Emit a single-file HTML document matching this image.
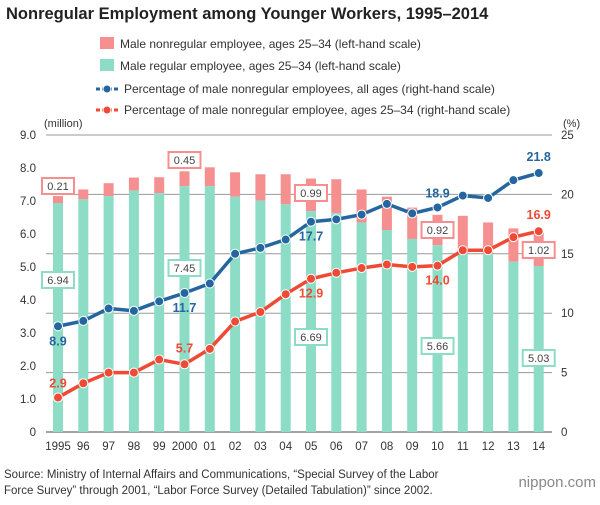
<!DOCTYPE html>
<html><head><meta charset="utf-8"><style>
body{margin:0;background:#fff;font-family:"Liberation Sans",sans-serif;}
svg text{font-family:"Liberation Sans",sans-serif;}
</style></head><body>
<svg id="chart" width="600" height="500" xmlns="http://www.w3.org/2000/svg">
<text x="6" y="19" font-size="16.5" font-weight="bold" fill="#222">Nonregular Employment among Younger Workers, 1995–2014</text>
<g>
<g><rect x="100" y="37" width="14" height="12" fill="#f68f8f"/><text x="120" y="48" font-size="12" fill="#333">Male nonregular employee, ages 25–34 (left-hand scale)</text></g>
<g><rect x="100" y="59" width="14" height="12" fill="#8cdcc6"/><text x="120" y="70" font-size="12" fill="#333">Male regular employee, ages 25–34 (left-hand scale)</text></g>
<g><line x1="96" y1="89" x2="118" y2="89" stroke="#2566a0" stroke-width="3" stroke-dasharray="4,2"/><circle cx="107" cy="89" r="4" fill="#2566a0" stroke="#fff"/><text x="124" y="93" font-size="12" fill="#333">Percentage of male nonregular employees, all ages (right-hand scale)</text></g>
<g><line x1="96" y1="110" x2="118" y2="110" stroke="#ee4a35" stroke-width="3" stroke-dasharray="4,2"/><circle cx="107" cy="110" r="4" fill="#ee4a35" stroke="#fff"/><text x="124" y="114" font-size="12" fill="#333">Percentage of male nonregular employee, ages 25–34 (right-hand scale)</text></g>
</g>
<text x="44" y="127" font-size="11" fill="#333">(million)</text>
<text x="563" y="127" font-size="11" fill="#333">(%)</text>
<g id="grid"></g><g id="bars"></g><g id="lines"></g><g id="labels"></g>
<text x="4" y="478" font-size="11.5" fill="#333">Source: Ministry of Internal Affairs and Communications, “Special Survey of the Labor</text>
<text x="4" y="494" font-size="11.5" fill="#333">Force Survey” through 2001, “Labor Force Survey (Detailed Tabulation)” since 2002.</text>
<text x="596" y="487" font-size="15" fill="#888" text-anchor="end">nippon.com</text>
</svg>
<script>
const years=['1995','96','97','98','99','2000','01','02','03','04','05','06','07','08','09','10','11','12','13','14'];
const regular=[6.94,7.05,7.15,7.32,7.24,7.45,7.45,7.13,7.01,6.90,6.69,6.63,6.35,6.12,5.85,5.66,5.39,5.39,5.16,5.03];
const totalEmp=[7.15,7.35,7.54,7.71,7.72,7.90,8.02,7.87,7.81,7.81,7.68,7.66,7.35,7.13,6.80,6.58,6.55,6.35,6.17,6.05];
const pctAll=[8.9,9.35,10.4,10.2,11.0,11.7,12.5,15.0,15.5,16.2,17.7,17.9,18.3,19.2,18.4,18.9,19.9,19.7,21.2,21.8];
const pctYoung=[2.9,4.1,5.0,5.0,6.1,5.7,7.0,9.3,10.1,11.6,12.9,13.4,13.8,14.1,13.9,14.0,15.3,15.3,16.4,16.9];
const leftTicks=['0','1.0','2.0','3.0','4.0','5.0','6.0','7.0','8.0','9.0'];
const rightTicks=['0','5','10','15','20','25'];
const NS='http://www.w3.org/2000/svg';
const y0=432,yTop=135;
const xs=i=>58+i*25.3;
const yl=v=>y0-(y0-yTop)*v/9;
const yr=v=>y0-(y0-yTop)*v/25;
function mk(tag,attrs,parent,txt){const e=document.createElementNS(NS,tag);for(const k in attrs)e.setAttribute(k,attrs[k]);if(txt!==undefined)e.textContent=txt;document.getElementById(parent).appendChild(e);return e;}
leftTicks.forEach((t,i)=>{const e=mk('text',{x:36,y:yl(i)+4,'font-size':11.5,fill:'#333','text-anchor':'end'},'grid',t);

});
rightTicks.forEach((t,i)=>{const v=i*5;const l=mk('line',{x1:46,x2:552,y1:yr(v),y2:yr(v),stroke:i==0?'#444':'#999','stroke-width':1},'grid');


const e=mk('text',{x:561,y:yr(v)+4,'font-size':11.5,fill:'#333'},'grid',t);

});
years.forEach((y,i)=>{const e=mk('text',{x:xs(i),y:450,'font-size':11.5,fill:'#333','text-anchor':'middle'},'grid',y);


const p=mk('rect',{x:xs(i)-5,y:yl(totalEmp[i]),width:10,height:yl(regular[i])-yl(totalEmp[i]),fill:'#f68f8f'},'bars');


const g=mk('rect',{x:xs(i)-5,y:yl(regular[i]),width:10,height:y0-yl(regular[i]),fill:'#8cdcc6'},'bars');

});
[[pctAll,'#2566a0','line-all-ages'],[pctYoung,'#ee4a35','line-25-34']].forEach(([d,c,n])=>{
const pl=mk('polyline',{points:d.map((v,i)=>xs(i)+','+yr(v)).join(' '),fill:'none',stroke:c,'stroke-width':3.5},'lines');


d.forEach((v,i)=>{const ci=mk('circle',{cx:xs(i),cy:yr(v),r:4.5,fill:c,stroke:'#fff','stroke-width':1},'lines');

});});
function box(i,val,yy,col,n){const w=val.length*6.5+6;const r=mk('rect',{x:xs(i)-w/2,y:yy-8,width:w,height:16,fill:'#fff',stroke:col,'stroke-width':2},'labels');


const t=mk('text',{x:xs(i),y:yy+4,'font-size':11,fill:'#444','text-anchor':'middle'},'labels',val);

}
const pk='#f68f8f',gr='#8cdcc6';
box(0,(totalEmp[0]-regular[0]).toFixed(2),186,pk,'label-nonreg-1995');
box(5,(totalEmp[5]-regular[5]).toFixed(2),160,pk,'label-nonreg-2000');
box(10,(totalEmp[10]-regular[10]).toFixed(2),193,pk,'label-nonreg-2005');
box(15,(totalEmp[15]-regular[15]).toFixed(2),230,pk,'label-nonreg-2010');
box(19,(totalEmp[19]-regular[19]).toFixed(2),250,pk,'label-nonreg-2014');
box(0,regular[0].toFixed(2),280,gr,'label-reg-1995');
box(5,regular[5].toFixed(2),268,gr,'label-reg-2000');
box(10,regular[10].toFixed(2),337,gr,'label-reg-2005');
box(15,regular[15].toFixed(2),346,gr,'label-reg-2010');
box(19,regular[19].toFixed(2),358,gr,'label-reg-2014');
function val(i,d,dy,col,n){const t=mk('text',{x:xs(i),y:yr(d[i])+dy,'font-size':12.5,'font-weight':'bold',fill:col,'text-anchor':'middle'},'labels',d[i].toFixed(1));

}
const B='#2566a0',R='#ee4a35';
val(0,pctAll,19,B,'value-all-1995');val(5,pctAll,19,B,'value-all-2000');val(10,pctAll,19,B,'value-all-2005');val(15,pctAll,-10,B,'value-all-2010');val(19,pctAll,-12,B,'value-all-2014');
val(0,pctYoung,-10,R,'value-young-1995');val(5,pctYoung,-12,R,'value-young-2000');val(10,pctYoung,19,R,'value-young-2005');val(15,pctYoung,19,R,'value-young-2010');val(19,pctYoung,-12,R,'value-young-2014');
</script>
</body></html>
